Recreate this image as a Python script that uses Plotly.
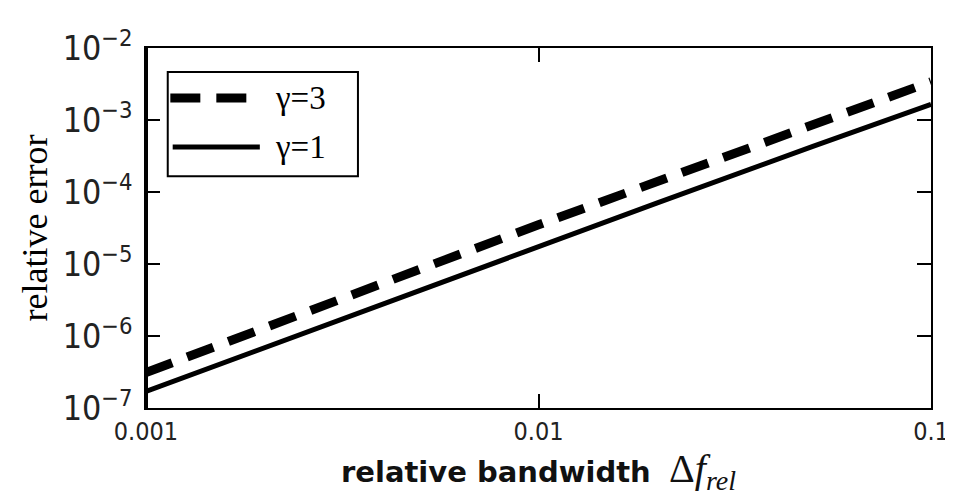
import plotly.graph_objects as go

# data
bandwidth = [0.001, 0.002, 0.005, 0.01, 0.02, 0.05, 0.1]
err_gamma3 = [3.1e-7, 1.25e-6, 8.5e-6, 3.5e-5, 1.4e-4, 8.6e-4, 3.4e-3]
err_gamma1 = [1.7e-7, 6.9e-7, 4.4e-6, 1.75e-5, 7.0e-5, 4.3e-4, 1.65e-3]
x_tickvals = [0.001, 0.01, 0.1]
x_ticktext = ["0.001", "0.01", "0.1"]
legend_labels = ["γ=3", "γ=1"]

fig = go.Figure()
fig.add_trace(go.Scatter(x=bandwidth, y=err_gamma3, mode="lines", name=legend_labels[0],
                         line=dict(color="black", width=9, dash="28px,16px")))
fig.add_trace(go.Scatter(x=bandwidth, y=err_gamma1, mode="lines", name=legend_labels[1],
                         line=dict(color="black", width=5)))

axis_common = dict(showline=True, linecolor="black", linewidth=2, mirror="ticks",
                   ticks="inside", ticklen=14, tickwidth=1.5, tickcolor="black",
                   showgrid=False, zeroline=False)

fig.update_xaxes(type="log", range=[-3, -1], tickvals=x_tickvals, ticktext=x_ticktext,
                 tickfont=dict(family="DejaVu Sans Condensed", size=25, color="#222"),
                 title=dict(text="<b>relative bandwidth</b>  <span style='font-family:Liberation Serif;font-size:40px'>Δ<i>f</i><sub><i>rel</i></sub></span>",
                            font=dict(family="DejaVu Sans", size=29, color="#111"), standoff=4),
                 **axis_common)
fig.update_yaxes(type="log", range=[-7, -2], dtick=1, exponentformat="power",
                 tickfont=dict(family="DejaVu Sans Condensed", size=27, color="#222"),
                 ticklabelstandoff=6,
                 title=dict(text="relative error", font=dict(family="Liberation Serif", size=36, color="black"),
                            standoff=4),
                 **axis_common)

# thicker left spine as in the reference
fig.add_shape(type="line", xref="paper", yref="paper", x0=0, x1=0, y0=0, y1=1,
              line=dict(color="black", width=4))

# legend box drawn by hand so the line samples are long, as in the reference
fig.add_shape(type="rect", xref="paper", yref="paper", x0=0.0277, x1=0.270, y0=0.644, y1=0.933,
              line=dict(color="black", width=2), fillcolor="white", layer="above")
fig.add_shape(type="line", xref="paper", yref="paper", x0=0.031, x1=0.132, y0=0.861, y1=0.861,
              line=dict(color="black", width=9, dash="30px,16px"), layer="above")
fig.add_shape(type="line", xref="paper", yref="paper", x0=0.034, x1=0.145, y0=0.725, y1=0.725,
              line=dict(color="black", width=5), layer="above")
for label, ypos in zip(legend_labels, [0.861, 0.725]):
    fig.add_annotation(text=label, xref="paper", yref="paper", x=0.162, y=ypos,
                       xanchor="left", yanchor="middle", showarrow=False,
                       font=dict(family="Liberation Serif", size=33, color="black"))

fig.update_layout(
    width=953, height=498,
    margin=dict(l=138, r=20, t=40, b=98),
    paper_bgcolor="white", plot_bgcolor="white",
    showlegend=False,
)

fig.write_html("out.html")
